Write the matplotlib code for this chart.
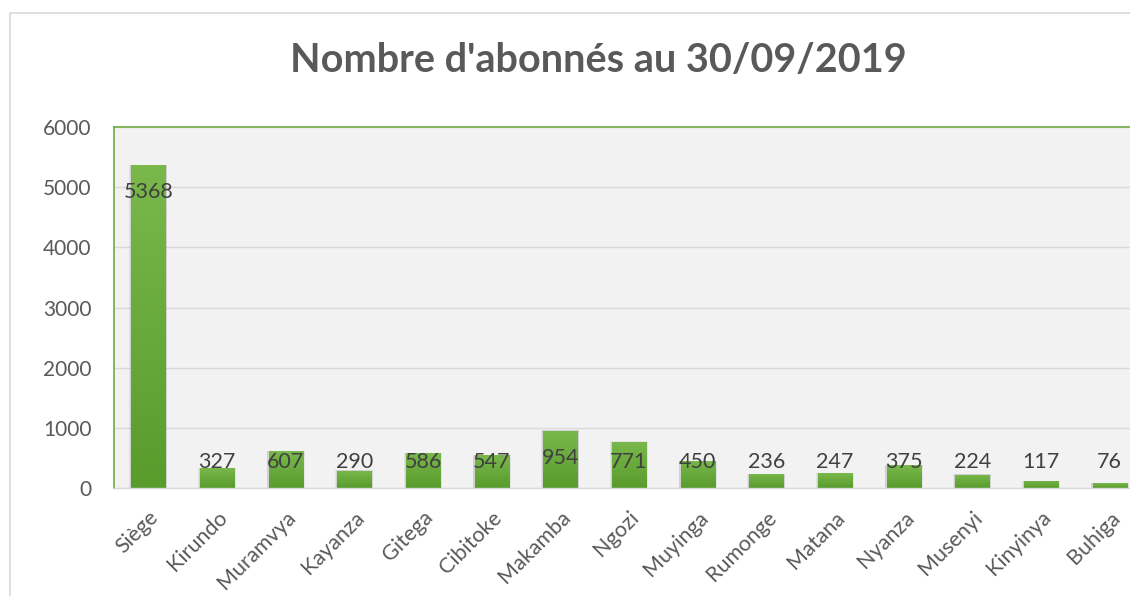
import numpy as np
import matplotlib
matplotlib.use("Agg")
import matplotlib.pyplot as plt
from matplotlib.patches import Rectangle
from matplotlib.colors import LinearSegmentedColormap

categories = ["Siège", "Kirundo", "Muramvya", "Kayanza", "Gitega", "Cibitoke", "Makamba",
              "Ngozi", "Muyinga", "Rumonge", "Matana", "Nyanza", "Musenyi", "Kinyinya", "Buhiga"]
values = [5368, 327, 607, 290, 586, 547, 954, 771, 450, 236, 247, 375, 224, 117, 76]
yticks = [0, 1000, 2000, 3000, 4000, 5000, 6000]
title = "Nombre d'abonnés au 30/09/2019"

plt.rcParams['font.family'] = ['Lato', 'DejaVu Sans']

W, H = 1130, 596
fig = plt.figure(figsize=(W / 100, H / 100), dpi=100)
fig.patch.set_facecolor("white")

# outer chart border
fig.patches.append(Rectangle((10 / W, -0.1), 2.0, (596 - 13) / H + 0.1,
                             transform=fig.transFigure, fill=False,
                             edgecolor="#d9d9d9", linewidth=1.2))

left, right = 114 / W, 1144 / W
bottom, top = 1 - 488 / H, 1 - 127 / H
ax = fig.add_axes([left, bottom, right - left, top - bottom])
ax.set_facecolor("#f2f2f2")

x = np.arange(len(categories))
ax.set_xlim(-0.5, len(categories) - 0.5)
ax.set_ylim(0, 6000)

bars = ax.bar(x, values, width=0.5, color="#70ad47", zorder=2, edgecolor="none")
cmap = LinearSegmentedColormap.from_list("g", ["#589c2c", "#7ab84c"])
grad = np.linspace(0, 1, 256).reshape(-1, 1)
for b in bars:
    # soft shadow
    for k, a in [(0.05, 0.06), (0.03, 0.08)]:
        sh = Rectangle((b.get_x() - k / 2, 0), b.get_width() + k, b.get_height() + k * 60,
                       facecolor="#000000", alpha=a, zorder=1.5, edgecolor="none")
        ax.add_patch(sh)
    im = ax.imshow(grad, cmap=cmap, origin="lower", aspect="auto",
                   extent=[b.get_x(), b.get_x() + b.get_width(), 0, b.get_height()],
                   zorder=2.5)
    im.set_clip_path(b)
ax.set_xlim(-0.5, len(categories) - 0.5)
ax.set_ylim(0, 6000)

for xi, v in zip(x, values):
    ax.text(xi, max(v - 455, 430), str(v), ha="center", va="center",
            fontsize=15.5, color="#404040", zorder=4)

ax.set_yticks(yticks)
ax.set_yticklabels([str(t) for t in yticks])
ax.set_xticks(x)
ax.set_xticklabels(categories, rotation=45, ha="right", rotation_mode="anchor")
ax.tick_params(axis="both", length=0, labelcolor="#595959")
ax.tick_params(axis="y", pad=16, labelsize=15)
ax.tick_params(axis="x", pad=14, labelsize=15.5)
ax.grid(axis="y", color="#d9d9d9", linewidth=1.0, zorder=0)
ax.set_axisbelow(True)

for s in ["top", "left"]:
    ax.spines[s].set_color("#70ad47")
    ax.spines[s].set_linewidth(1.2)
ax.spines["bottom"].set_color("#d9d9d9")
ax.spines["bottom"].set_linewidth(1.0)
ax.spines["right"].set_visible(False)

fig.text(598 / W, 1 - 61 / H, title, ha="center", va="center",
         fontsize=28.5, fontweight="bold", color="#595959")

fig.savefig("out.png", dpi=100, facecolor="white")
